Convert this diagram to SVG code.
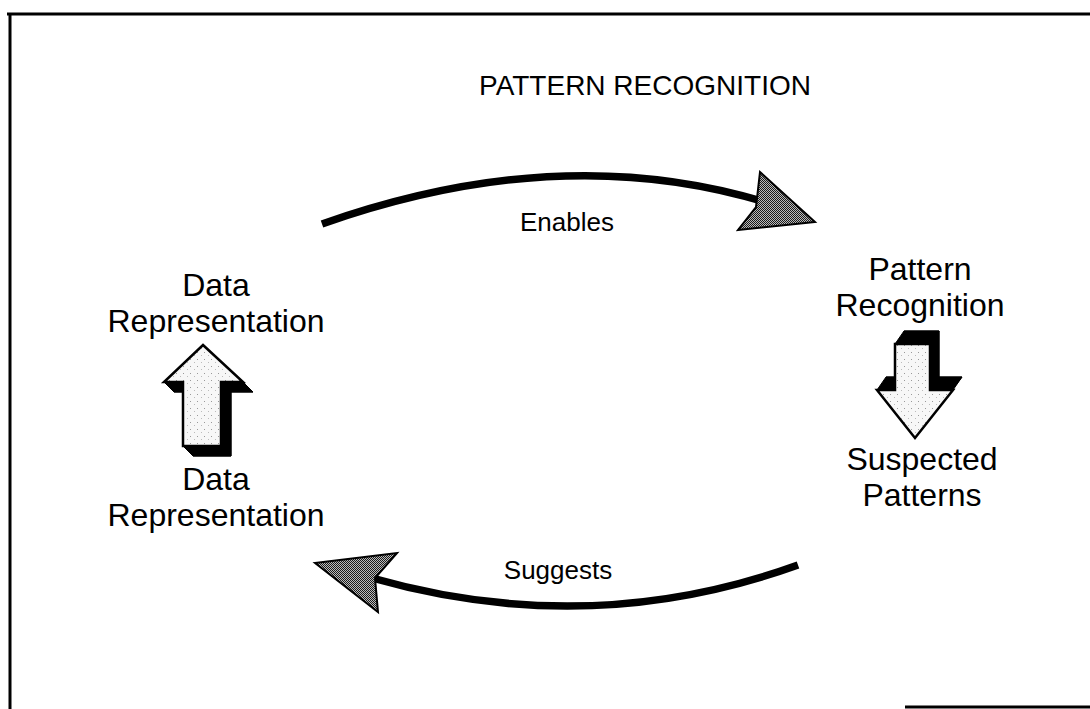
<svg xmlns="http://www.w3.org/2000/svg" width="1090" height="709" viewBox="0 0 1090 709">
<style>
.lbl{font-family:"Liberation Sans",Arial,sans-serif;fill:#000;text-anchor:middle}
.big{font-size:32px}
.mid{font-size:26px}
.title{font-size:28px}
.frame{stroke:#000;stroke-width:3;fill:none}
.tail{stroke:#000;stroke-width:7.5;fill:none;stroke-linecap:butt}
.head{fill:url(#dense);stroke:#000;stroke-width:2;stroke-linejoin:miter}
.face{fill:url(#stip);stroke:#000;stroke-width:2.5;stroke-linejoin:miter}
.shade{fill:#000;stroke:#000;stroke-width:1}
</style>
<defs>
<pattern id="dense" width="2" height="2" patternUnits="userSpaceOnUse">
<rect width="2" height="2" fill="#bbb"/>
<rect width="1" height="1" fill="#1a1a1a"/>
<rect x="1" y="1" width="1" height="1" fill="#1a1a1a"/>
</pattern>
<pattern id="stip" width="7" height="7" patternUnits="userSpaceOnUse">
<rect width="7" height="7" fill="#f7f7f7"/>
<rect x="1" y="2" width="1" height="1" fill="#999"/>
<rect x="5" y="5" width="1" height="1" fill="#bbb"/>
</pattern>
</defs>
<rect width="1090" height="709" fill="#fff"/>
<g id="frame">
<line class="frame" x1="7" y1="14" x2="1090" y2="14"/>
<line class="frame" x1="10" y1="13" x2="10" y2="709"/>
<line class="frame" x1="905" y1="707" x2="1090" y2="707"/>
</g>
<g id="title"><text class="lbl title" x="645" y="95">PATTERN RECOGNITION</text></g>
<g id="node-data-rep-top"><text class="lbl big" x="216" y="296">Data</text><text class="lbl big" x="216" y="332">Representation</text></g>
<g id="node-data-rep-bottom"><text class="lbl big" x="216" y="490">Data</text><text class="lbl big" x="216" y="526">Representation</text></g>
<g id="node-pattern-recognition"><text class="lbl big" x="920" y="280">Pattern</text><text class="lbl big" x="920" y="316">Recognition</text></g>
<g id="node-suspected-patterns"><text class="lbl big" x="922" y="470">Suspected</text><text class="lbl big" x="922" y="506">Patterns</text></g>
<g id="connectors">
<g id="enables">
<path class="tail" d="M322,224 Q560,140 765,202"/>
<polygon class="head" points="760,172 815,222 738,230 756,207"/>
<text class="lbl mid" x="567" y="231">Enables</text>
</g>
<g id="suggests">
<path class="tail" d="M798,565 Q590,640 372,578"/>
<polygon class="head" points="315,563 397,553 375,578 378,612"/>
<text class="lbl mid" x="558" y="579">Suggests</text>
</g>
<g id="up-arrow">
<polygon class="shade" points="213,355 253,392 231,392 231,456 193,456 193,392 174,392"/>
<polygon class="shade" points="164,382 183,382 193,392 174,392"/>
<polygon class="shade" points="221,382 231,392 231,456 221,446"/>
<polygon class="shade" points="183,446 221,446 231,456 193,456"/>
<polygon class="shade" points="221,382 243,382 253,392 231,392"/>
<polygon class="face" points="203,345 243,382 221,382 221,446 183,446 183,382 164,382"/>
</g>
<g id="down-arrow">
<polygon class="shade" points="904,331 939,331 939,377 962,377 924,425 886,377 904,377"/>
<polygon class="shade" points="895,344 930,344 939,331 904,331"/>
<polygon class="shade" points="930,344 939,331 939,377 930,390"/>
<polygon class="shade" points="930,390 953,390 962,377 939,377"/>
<polygon class="shade" points="877,390 895,390 904,377 886,377"/>
<polygon class="face" points="895,344 930,344 930,390 953,390 915,438 877,390 895,390"/>
</g>
</g>
</svg>
